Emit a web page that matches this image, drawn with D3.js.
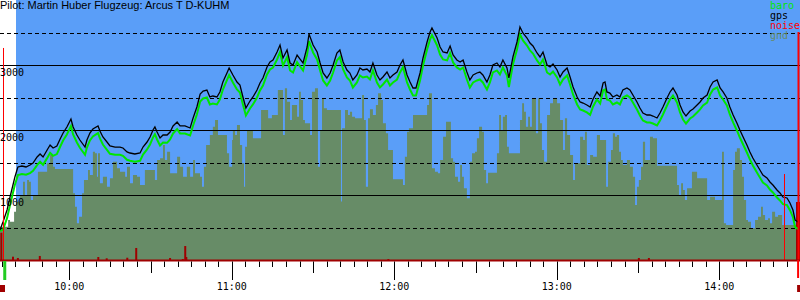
<!DOCTYPE html>
<html>
<head>
<meta charset="utf-8">
<script src="https://cdn.jsdelivr.net/npm/d3@7"></script>
<style>
  body { margin: 0; background: #fff; }
  svg { display: block; }
</style>
</head>
<body>
<svg id="chart" width="800" height="300"></svg>
<script>
// flight log, times are minutes after 09:00
const title = "Pilot: Martin Huber Flugzeug: Arcus T D-KUHM";

const gpsMin = [34.4,35.5,37.0,38.1,39.9,41.0,42.5,44.0,45.5,46.6,
  48.1,49.2,50.3,51.8,52.9,54.0,55.4,56.6,57.7,59.1,
  60.6,61.4,62.8,63.9,65.8,66.5,67.6,68.7,70.6,71.3,
  72.4,73.9,75.0,76.9,78.7,79.8,81.3,82.4,84.2,86.1,
  87.2,88.7,89.8,90.9,91.6,92.4,93.5,94.6,96.1,97.2,
  98.3,99.8,100.9,102.7,104.6,105.7,107.1,108.3,109.4,110.8,
  111.9,113.0,114.5,115.6,116.7,118.2,119.0,120.4,121.9,123.0,
  124.1,125.2,126.7,127.8,129.3,130.4,131.5,133.0,134.1,135.2,
  136.7,137.8,138.9,140.4,141.5,142.6,144.1,145.2,146.3,147.8,
  148.5,150.0,151.5,152.6,153.7,155.1,156.3,157.4,158.8,159.9,
  161.1,162.5,163.6,164.7,166.2,167.3,168.4,169.9,171.0,172.1,
  173.6,174.7,175.8,177.3,178.4,179.5,181.0,182.1,183.2,184.7,
  185.8,186.9,188.0,189.5,190.6,192.1,193.2,193.9,195.8,196.9,
  198.0,199.5,200.6,201.7,203.1,204.3,205.4,206.8,207.9,209.1,
  210.5,211.6,212.7,214.2,215.3,216.4,217.9,219.0,220.1,221.6,
  222.3,223.8,225.3,226.4,227.5,229.0,230.1,231.2,232.7,233.8,
  234.9,236.4,237.5,238.6,240.1,241.2,242.3,243.8,244.9,246.0,
  247.5,248.6,249.7,251.1,252.3,253.4,254.8,256.0,257.1,257.8,
  258.5,259.6,260.7,262.2,263.3,264.4,265.9,267.0,268.1,269.6,
  270.7,271.8,273.3,274.4,275.5,277.0,278.1,279.2,280.7,281.8,
  282.9,284.4,285.5,286.6,287.7,289.2,290.3,291.8,292.9,294.0,
  295.5,296.6,297.7,299.2,300.3,301.4,302.8,303.9,305.1,306.5,
  307.6,308.8,310.2,311.3,312.4,313.9,315.0,316.1,317.6,318.7,
  319.8,321.3,322.4,323.5,325.0,326.1,327.2,328.0,329.1];

const gpsAlt = [462,585,769,969,1277,1431,1446,1431,1462,1492,
  1585,1631,1585,1692,1769,1723,1754,1862,1954,2046,
  2169,2046,1923,1846,1738,1846,1954,2015,2062,1985,
  1892,1815,1754,1738,1738,1723,1662,1646,1631,1646,
  1738,1815,1892,2000,2046,1969,1877,1923,1923,1969,
  2062,2123,2062,2062,2031,2185,2354,2554,2600,2615,
  2508,2523,2508,2585,2738,2877,2954,2846,2738,2692,
  2508,2338,2446,2508,2615,2723,2800,2969,3046,3077,
  3200,3308,3108,3231,3031,3000,3154,3092,3031,3277,
  3477,3308,3200,3031,2877,2800,2877,3000,3185,3231,
  3046,2923,2877,2769,2846,2954,2923,2938,2892,3031,
  2846,2769,2815,2892,2800,2846,2892,3000,3077,2846,
  2738,2646,2646,2877,3108,3354,3508,3569,3415,3277,
  3200,3185,3292,3154,3077,3046,3077,2892,2769,2846,
  2877,2892,2846,2738,2846,3000,3031,2969,3077,2954,
  2800,3123,3354,3585,3492,3415,3338,3292,3185,3123,
  3200,3000,2969,3015,2923,2815,2892,2954,2815,2662,
  2508,2431,2415,2385,2354,2477,2585,2523,2723,2738,
  2585,2569,2508,2538,2508,2615,2646,2615,2538,2431,
  2338,2262,2231,2231,2215,2185,2262,2354,2492,2585,
  2646,2538,2385,2277,2215,2292,2323,2385,2431,2492,
  2538,2662,2738,2769,2646,2585,2492,2354,2231,2108,
  2000,1892,1769,1662,1569,1462,1385,1308,1262,1200,
  1154,1077,1031,969,954,877,769,615,585];

const baroAlt = [450,465,644,844,1157,1306,1321,1311,1337,1372,
  1460,1511,1465,1567,1649,1603,1629,1742,1839,1931,
  2059,1931,1808,1726,1618,1731,1839,1900,1952,1870,
  1777,1695,1634,1618,1618,1603,1542,1526,1511,1526,
  1623,1700,1777,1885,1936,1854,1762,1808,1803,1854,
  1947,2013,1947,1947,1916,2070,2239,2439,2485,2500,
  2393,2408,2393,2470,2623,2767,2844,2731,2623,2577,
  2393,2223,2331,2393,2500,2608,2685,2854,2931,2962,
  3085,3198,2993,3121,2916,2885,3044,2977,2916,3162,
  3367,3193,3085,2916,2762,2685,2762,2885,3070,3121,
  2931,2808,2762,2654,2731,2839,2808,2823,2777,2916,
  2731,2654,2700,2777,2685,2731,2777,2885,2967,2731,
  2623,2531,2531,2762,2993,3239,3393,3459,3300,3162,
  3085,3070,3182,3039,2962,2931,2962,2777,2654,2731,
  2762,2777,2731,2623,2731,2885,2916,2854,2962,2839,
  2660,3008,3239,3470,3377,3300,3223,3177,3070,3008,
  3085,2885,2854,2900,2808,2700,2777,2839,2700,2547,
  2393,2316,2300,2270,2234,2362,2470,2408,2608,2623,
  2470,2454,2393,2423,2393,2500,2531,2500,2423,2316,
  2223,2147,2116,2116,2100,2070,2147,2239,2377,2470,
  2531,2423,2270,2162,2100,2177,2208,2270,2316,2377,
  2423,2547,2623,2654,2531,2470,2377,2239,2116,1993,
  1885,1777,1654,1547,1454,1347,1270,1193,1147,1085,
  1039,962,916,859,844,767,659,505,475];

// terrain under the track (step values)
const gndMin = [34.4,37.4,38.1,39.6,40.3,41.8,42.9,43.6,44.4,45.1,
  45.8,46.6,48.4,51.8,52.9,54.0,54.7,61.4,62.1,62.8,
  63.6,64.7,65.4,66.9,67.6,68.7,69.5,70.2,70.6,71.3,
  72.4,73.9,75.0,76.1,77.6,78.7,80.6,81.3,82.4,83.5,
  85.0,86.1,87.9,91.6,92.4,93.5,94.6,95.3,96.1,97.2,
  99.8,100.9,102.0,103.4,104.6,105.7,106.4,108.25,109.0,109.7,
  110.5,111.9,113.0,113.8,114.9,118.2,119.0,120.1,120.4,121.2,
  121.9,123.0,123.8,124.5,124.9,125.6,127.8,130.8,133.4,134.8,
  137.0,138.9,139.6,140.4,141.5,142.2,144.1,144.8,145.5,146.3,
  147.0,148.9,149.6,150.7,151.8,152.6,153.3,154.0,155.1,160.3,
  160.7,161.1,161.8,162.9,163.6,164.4,165.5,168.1,168.8,169.5,
  170.3,171.0,172.1,173.2,174.0,175.1,175.8,176.9,177.7,179.5,
  183.2,183.9,184.7,185.4,186.9,192.1,192.8,193.9,195.0,196.1,
  196.9,198.0,199.1,200.9,201.7,202.4,203.5,204.3,205.0,205.7,
  206.8,207.9,208.7,209.8,210.5,211.3,212.4,213.1,213.9,214.6,
  217.9,218.7,219.4,220.1,220.9,221.6,222.3,226.4,227.2,227.9,
  228.6,229.4,230.1,230.8,232.3,233.1,233.8,234.5,235.3,236.4,
  237.5,238.6,240.1,241.2,242.3,243.0,243.8,244.9,246.0,246.7,
  248.6,249.7,250.4,251.1,252.3,253.4,254.8,255.95,258.2,258.9,
  260.0,260.7,261.5,262.2,263.0,263.7,264.4,265.9,267.0,268.1,
  268.9,269.6,270.3,271.1,271.8,272.6,274.4,275.5,277.0,284.4,
  285.1,285.9,286.6,287.3,288.1,289.9,291.8,295.5,296.6,298.4,
  301.0,301.7,302.5,305.1,305.8,306.5,307.6,308.4,309.1,309.9,
  310.6,311.7,313.2,314.3,315.4,316.1,316.9,318.0,318.7,319.5,
  320.6,321.7,323.2,329.8];

const gndAlt = [512,615,590,743,897,1000,1205,1000,1231,1205,
  923,1000,1359,1487,1615,1436,1400,1026,821,564,
  667,1026,1231,1385,1308,1667,1641,1282,1641,1179,
  1282,1128,1256,1513,1410,1359,1282,1436,1179,1308,
  1282,1154,1385,1231,1538,1564,1769,1538,1667,1333,
  1590,1436,1282,1436,1282,1538,1333,1282,1128,1436,
  1769,1923,2051,2154,1923,1641,1436,1846,2000,1923,
  2077,1769,1487,1128,1744,1985,1872,2308,2180,2231,
  2615,1923,2641,2436,2154,2385,2205,2590,2462,2154,
  2103,1923,2590,2641,1436,2000,2487,2333,2308,900,
  2026,2026,2308,2231,2282,2205,2180,2538,2154,1128,
  2180,2318,2231,2385,2564,2462,2103,1949,1692,1241,
  1154,1590,1974,2026,2231,2385,2564,1410,1359,1333,
  1538,1897,2128,1564,1513,1282,1205,1462,1282,1103,
  949,1513,1641,1667,1872,2051,1974,1385,1179,1344,
  1641,2231,2000,2205,2231,1744,1641,2154,2410,2282,
  2051,2205,2051,2487,1949,2487,2103,1692,1513,2231,
  2410,2487,2410,2154,1692,2180,1923,1615,1231,1487,
  1897,1846,1974,1462,1615,1590,1923,1846,1128,1513,
  1692,1949,1897,1923,1667,1538,1462,1538,1436,1282,
  846,1128,1231,1436,1820,1538,1897,1872,1451,1154,
  1000,1179,1077,923,1103,1359,1256,923,974,923,
  1667,564,538,1385,1667,1718,1538,1282,923,615,
  590,487,615,667,821,692,615,641,564,744,
  667,692,538,538];

// small dark red spikes at the bottom
const spikeMin = [34.9,39.2,41.0,49.1,70.7,73.8,81.4,84.7,97.2,101.9,102.8,103.2,177.8,270.3,274.0,328.7];
const spikeVal = [420,51,31,62,46,26,35,185,31,15,215,46,15,31,31,892];

// noise markers
const noiseMin = [35.5, 324.0, 329.1];
const noiseVal = [3262, 1323, 3508];

const takeoffMin = 35.6;
const landingMin = 329.1;
const startMin = 34.4, endMin = 329.8;

const solidLevels = [1000, 2000, 3000];
const dashedLevels = [500, 1500, 2500, 3500];

const legendNames = ["baro", "gps", "noise", "gnd"];
const legendColors = ["#00e600", "#000000", "#ff0000", "#678c67"];

const W = 800, H = 300;
const plotBottom = 260, plotLeft = 16;
const mono = "'DejaVu Sans Mono', monospace";

const base = new Date(2020, 5, 1, 9, 0, 0);
const at = m => new Date(base.getTime() + m * 60000);

const x = d3.scaleTime().domain([at(startMin), at(endMin)]).range([0, W]);
const y = d3.scaleLinear().domain([0, 4000]).range([plotBottom, 0]);

const svg = d3.select("#chart");

svg.append("rect").attr("x", plotLeft).attr("y", 0)
  .attr("width", W - plotLeft).attr("height", plotBottom)
  .attr("fill", "#5a9ef8");

// terrain
const gnd = d3.zip(gndMin, gndAlt).map(d => ({ t: at(d[0]), v: d[1] }));
svg.append("path")
  .datum(gnd)
  .attr("fill", "#678c67")
  .attr("d", d3.area().curve(d3.curveStepAfter)
    .x(d => x(d.t)).y0(y(0)).y1(d => y(d.v)));

// grid
svg.append("g").selectAll("line")
  .data(solidLevels).join("line")
  .attr("x1", 0).attr("x2", W)
  .attr("y1", d => Math.round(y(d)) + 0.5).attr("y2", d => Math.round(y(d)) + 0.5)
  .attr("stroke", "#000").attr("stroke-width", 1);

svg.append("g").selectAll("line")
  .data(dashedLevels).join("line")
  .attr("x1", 0).attr("x2", W)
  .attr("y1", d => Math.round(y(d)) + 0.5).attr("y2", d => Math.round(y(d)) + 0.5)
  .attr("stroke", "#000").attr("stroke-width", 1)
  .attr("stroke-dasharray", "4,3");

// spikes
const spikes = d3.zip(spikeMin, spikeVal);
svg.append("g").selectAll("rect")
  .data(spikes).join("rect")
  .attr("x", d => x(at(d[0])) - 1)
  .attr("y", d => y(d[1]))
  .attr("width", (d, i) => i === spikes.length - 1 ? W - x(at(d[0])) + 1 : 2)
  .attr("height", d => y(0) - y(d[1]))
  .attr("fill", "#a00000");

// lines
const line = d3.line().x(d => x(at(d[0]))).y(d => y(d[1]));
svg.append("path")
  .datum(d3.zip(gpsMin, baroAlt))
  .attr("fill", "none").attr("stroke", "#00e600").attr("stroke-width", 2)
  .attr("d", line);
svg.append("path")
  .datum(d3.zip(gpsMin, gpsAlt))
  .attr("fill", "none").attr("stroke", "#000").attr("stroke-width", 1.3)
  .attr("d", line);

// noise bars
svg.append("g").selectAll("line")
  .data(d3.zip(noiseMin, noiseVal)).join("line")
  .attr("x1", d => Math.round(x(at(d[0]))) + 0.5)
  .attr("x2", d => Math.round(x(at(d[0]))) + 0.5)
  .attr("y1", d => y(d[1])).attr("y2", y(0))
  .attr("stroke", "#ff0000").attr("stroke-width", (d, i) => i === noiseMin.length - 1 ? 2 : 1);

// bottom axis
svg.append("rect").attr("x", 0).attr("y", plotBottom - 0.5)
  .attr("width", W).attr("height", 2).attr("fill", "#a00000");

const ticks = x.ticks(d3.timeMinute.every(5));
svg.append("g").selectAll("line")
  .data(ticks).join("line")
  .attr("x1", d => Math.round(x(d)) + 0.5).attr("x2", d => Math.round(x(d)) + 0.5)
  .attr("y1", plotBottom + 1.5)
  .attr("y2", d => plotBottom + (d.getMinutes() === 0 ? 20 : d.getMinutes() === 30 ? 13 : 7))
  .attr("stroke", "#000");

svg.append("g").selectAll("text")
  .data(ticks.filter(d => d.getMinutes() === 0)).join("text")
  .attr("x", d => x(d)).attr("y", 290)
  .attr("text-anchor", "middle")
  .attr("font-family", mono).attr("font-size", 10)
  .text(d3.timeFormat("%H:%M"));

// takeoff / landing markers
svg.append("rect").attr("x", x(at(takeoffMin))).attr("y", plotBottom + 1)
  .attr("width", 3).attr("height", 19).attr("fill", "#22cc22");
svg.append("line")
  .attr("x1", x(at(landingMin))).attr("x2", x(at(landingMin)))
  .attr("y1", plotBottom).attr("y2", 278)
  .attr("stroke", "#ff0000").attr("stroke-width", 2);
svg.append("rect").attr("x", x(at(startMin))).attr("y", 285)
  .attr("width", 5).attr("height", 7).attr("fill", "#a00000");
svg.append("rect").attr("x", x(at(landingMin)) - 1).attr("y", 285)
  .attr("width", 3).attr("height", 7).attr("fill", "#a00000");

// y labels
svg.append("g").selectAll("text")
  .data(solidLevels).join("text")
  .attr("x", 0).attr("y", d => y(d) + 11)
  .attr("font-family", mono).attr("font-size", 10)
  .attr("fill", "#000")
  .text(d => d);

// legend
svg.append("g").selectAll("text")
  .data(legendNames).join("text")
  .attr("x", 770).attr("y", (d, i) => 9 + i * 10)
  .attr("font-family", mono).attr("font-size", 10)
  .attr("fill", (d, i) => legendColors[i])
  .text(d => d);

svg.append("text")
  .attr("x", 0).attr("y", 9)
  .attr("font-family", "'Liberation Sans', Arial, sans-serif")
  .attr("font-size", 11)
  .text(title);
</script>
</body>
</html>
